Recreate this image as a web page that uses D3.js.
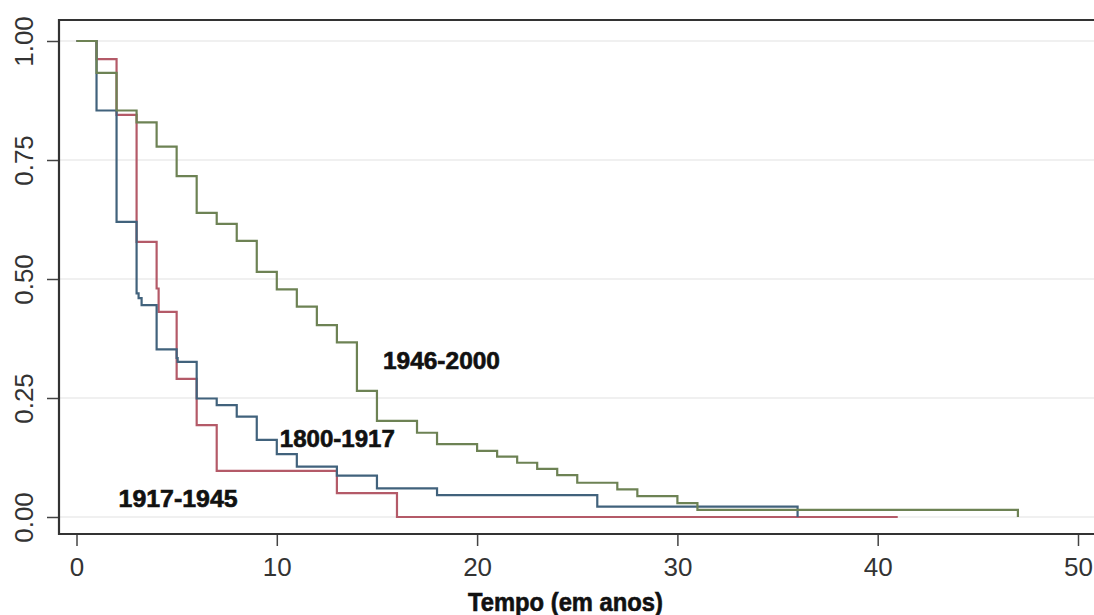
<!DOCTYPE html>
<html>
<head>
<meta charset="utf-8">
<script src="https://cdn.jsdelivr.net/npm/d3@7"></script>
<style>
  html, body { margin: 0; padding: 0; background: #fff; }
  svg { display: block; }
  .tick text { font-family: "Liberation Sans", Arial, sans-serif; fill: #333; }
  .lbl { font-family: "Liberation Sans Narrow", "Liberation Sans", Arial, sans-serif; font-weight: bold; fill: #111; stroke: #111; stroke-width: 0.6; }
</style>
</head>
<body>
<svg id="chart" width="1094" height="615"></svg>
<script>
// survival steps (time in years, survival proportion)
var green1946T = [0, 1, 2, 3, 4, 5, 6, 7, 8, 9, 10, 11, 12, 13, 14, 15, 17, 18, 20, 21, 22, 23, 24, 25, 27, 28, 30, 31, 47];
var green1946S = [1.0, 0.933, 0.854, 0.829, 0.778, 0.716, 0.639, 0.616, 0.580, 0.515, 0.478, 0.442, 0.403, 0.367, 0.265, 0.202, 0.177, 0.153, 0.139, 0.127, 0.114, 0.101, 0.088, 0.072, 0.058, 0.044, 0.029, 0.015, 0.0];

var red1917T = [0, 1, 2, 3, 4, 4.1, 5, 6, 7, 13, 16, 41];
var red1917S = [1.0, 0.962, 0.845, 0.578, 0.48, 0.431, 0.29, 0.193, 0.097, 0.05, 0.0, 0.0];

var blue1800T = [0, 1, 2, 3, 3.1, 3.25, 4, 5, 5.05, 6, 7, 8, 9, 10, 11, 13, 15, 18, 26, 36];
var blue1800S = [1.0, 0.854, 0.620, 0.47, 0.46, 0.445, 0.352, 0.334, 0.326, 0.249, 0.235, 0.211, 0.162, 0.132, 0.106, 0.087, 0.060, 0.046, 0.022, 0.0];

var xTicks = [0, 10, 20, 30, 40, 50];
var yTicks = [0, 0.25, 0.5, 0.75, 1];
var yTickLabels = ['0.00', '0.25', '0.50', '0.75', '1.00'];

var seriesNames = ['1946-2000', '1800-1917', '1917-1945'];
var xTitle = 'Tempo (em anos)';

var svg = d3.select('#chart');
var W = 1094;
var padLeft = 59, padTop = 20, axisY = 534;

var x = d3.scaleLinear().domain([0, 50]).range([76.5, 1078]);
var y = d3.scaleLinear().domain([0, 1]).range([517, 41]);

// gridlines
svg.append('g').selectAll('line')
  .data(yTicks)
  .enter().append('line')
    .attr('x1', padLeft).attr('x2', W)
    .attr('y1', function(d) { return y(d); })
    .attr('y2', function(d) { return y(d); })
    .attr('stroke', '#ebebeb')
    .attr('stroke-width', 1.5);

// top frame line
svg.append('line').attr('x1', padLeft - 1).attr('x2', W).attr('y1', padTop).attr('y2', padTop)
  .attr('stroke', '#333').attr('stroke-width', 2.2);

var yAxis = d3.axisLeft(y)
  .tickValues(yTicks)
  .tickSize(12)
  .tickFormat(function(d, i) { return yTickLabels[i]; });

var gy = svg.append('g').attr('transform', 'translate(' + padLeft + ',0)').call(yAxis);
gy.select('.domain').remove();
gy.append('line').attr('x1', 0).attr('x2', 0).attr('y1', padTop - 1).attr('y2', axisY + 1)
  .attr('stroke', '#333').attr('stroke-width', 2.2);
gy.selectAll('.tick line').attr('stroke', '#444').attr('stroke-width', 1.5);
gy.selectAll('.tick text')
  .attr('x', null).attr('dy', null)
  .attr('font-size', 26)
  .attr('text-anchor', 'middle')
  .attr('transform', 'translate(-26,0) rotate(-90)');

var xAxis = d3.axisBottom(x)
  .tickValues(xTicks)
  .tickSize(12)
  .tickFormat(d3.format('d'));

var gx = svg.append('g').attr('transform', 'translate(0,' + axisY + ')').call(xAxis);
gx.select('.domain').remove();
gx.append('line').attr('x1', padLeft - 1).attr('x2', W).attr('y1', 0).attr('y2', 0)
  .attr('stroke', '#333').attr('stroke-width', 2.2);
gx.selectAll('.tick line').attr('stroke', '#444').attr('stroke-width', 1.5);
gx.selectAll('.tick text')
  .attr('font-size', 26)
  .attr('dy', null)
  .attr('y', 42);

// survival curves
var step = d3.line()
  .x(function(d) { return x(d[0]); })
  .y(function(d) { return y(d[1]); })
  .curve(d3.curveStepAfter);

function pairs(ts, ss) {
  return ts.map(function(t, i) { return [t, ss[i]]; });
}

var curves = [
  { pts: pairs(red1917T, red1917S), color: '#b45a68' },
  { pts: pairs(blue1800T, blue1800S), color: '#41627c' },
  { pts: pairs(green1946T, green1946S), color: '#6d8254' }
];

svg.append('g').selectAll('path')
  .data(curves)
  .enter().append('path')
    .attr('d', function(d) { return step(d.pts); })
    .attr('fill', 'none')
    .attr('stroke', function(d) { return d.color; })
    .attr('stroke-width', 2.2);

// in-plot labels
var labels = [
  { text: seriesNames[0], t: 15.3, s: 0.31, w: 117 },
  { text: seriesNames[1], t: 10.15, s: 0.148, w: 115 },
  { text: seriesNames[2], t: 2.1, s: 0.022, w: 119 }
];

svg.append('g').selectAll('text')
  .data(labels)
  .enter().append('text')
    .attr('class', 'lbl')
    .attr('x', function(d) { return x(d.t); })
    .attr('y', function(d) { return y(d.s); })
    .attr('font-size', 23)
    .attr('textLength', function(d) { return d.w; })
    .attr('lengthAdjust', 'spacingAndGlyphs')
    .text(function(d) { return d.text; });

svg.append('text')
  .attr('class', 'lbl')
  .attr('x', 468)
  .attr('y', 611)
  .attr('font-size', 25)
  .attr('textLength', 195)
  .attr('lengthAdjust', 'spacingAndGlyphs')
  .text(xTitle);
</script>
</body>
</html>
